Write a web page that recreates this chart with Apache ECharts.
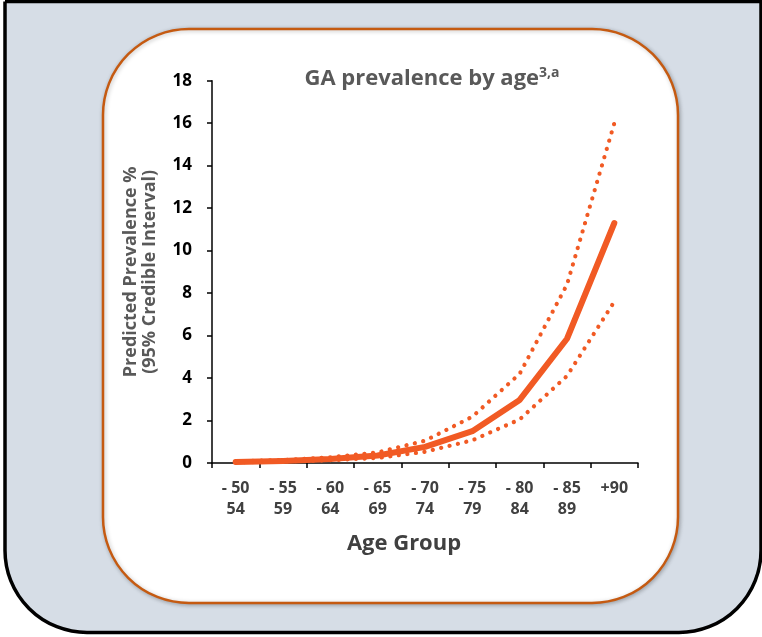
<!DOCTYPE html>
<html>
<head>
<meta charset="utf-8">
<script src="https://cdn.jsdelivr.net/npm/echarts@6/dist/echarts.min.js"></script>
<style>
html,body{margin:0;padding:0;background:#fff;}
#chart{width:762px;height:637px;}
</style>
</head>
<body>
<div id="chart"></div>
<script>
const categories = ['- 50\n54', '- 55\n59', '- 60\n64', '- 65\n69', '- 70\n74', '- 75\n79', '- 80\n84', '- 85\n89', '+90'];
const central = [0.05, 0.1, 0.19, 0.35, 0.76, 1.5, 2.97, 5.85, 11.3];
const upper = [0.07, 0.14, 0.27, 0.5, 1.05, 2.18, 4.2, 8.4, 16.0];
const lower = [0.03, 0.07, 0.13, 0.24, 0.53, 1.07, 2.05, 4.1, 7.6];
const yTicks = { min: 0, max: 18, interval: 2 };

const FONT = '"Open Sans", "Noto Sans", sans-serif';
const LINE = '#f15a24';

const chart = echarts.init(document.getElementById('chart'), null, { renderer: 'canvas' });
chart.setOption({
  animation: false,
  backgroundColor: '#ffffff',
  graphic: [
    { type: 'rect', z: -100, silent: true,
      shape: { x: 5, y: 1.5, width: 756, height: 631, r: [0, 0, 82, 82] },
      style: { fill: '#d6dde6', stroke: '#000', lineWidth: 3.5 } },
    { type: 'rect', z: -90, silent: true,
      shape: { x: 103, y: 29, width: 575, height: 574, r: 86 },
      style: { fill: '#ffffff', stroke: '#c55a11', lineWidth: 2.5,
               shadowBlur: 4, shadowColor: 'rgba(0,0,0,0.25)', shadowOffsetX: 1, shadowOffsetY: 1 } },
    { type: 'text', z: 10,
      style: {
        text: '{a|GA prevalence by age}{b|3,a}',
        x: 432, y: 79, align: 'center', verticalAlign: 'middle',
        rich: {
          a: { fontFamily: FONT, fontWeight: 'bold', fontSize: 22, fill: '#595959', color: '#595959' },
          b: { fontFamily: FONT, fontWeight: 'bold', fontSize: 14, fill: '#595959', color: '#595959', verticalAlign: 'top', padding: [0, 0, 12, 0] }
        }
      } }
  ],
  grid: { left: 212, right: 124, top: 80.7, bottom: 174, containLabel: false },
  xAxis: {
    type: 'category',
    data: categories,
    boundaryGap: true,
    name: 'Age Group',
    nameLocation: 'middle',
    nameGap: 70,
    nameTextStyle: { fontFamily: FONT, fontWeight: 'bold', fontSize: 22, color: '#404040', padding: [0, 42, 0, 0] },
    axisLine: { lineStyle: { color: '#000', width: 1.5 } },
    axisTick: { show: true, length: 5, alignWithLabel: false, lineStyle: { color: '#000', width: 1.5 } },
    axisLabel: { interval: 0, fontFamily: FONT, fontWeight: 'bold', fontSize: 16, color: '#404040', lineHeight: 21, margin: 15 }
  },
  yAxis: {
    type: 'value',
    min: yTicks.min, max: yTicks.max, interval: yTicks.interval,
    name: 'Predicted Prevalence %\n(95% Credible Interval)',
    nameLocation: 'middle',
    nameGap: 53,
    nameTextStyle: { fontFamily: FONT, fontWeight: 'bold', fontSize: 18, color: '#595959', lineHeight: 19 },
    splitLine: { show: false },
    axisLine: { show: true, lineStyle: { color: '#000', width: 1.5 } },
    axisTick: { show: true, length: 5, lineStyle: { color: '#000', width: 1.5 } },
    axisLabel: { fontFamily: FONT, fontWeight: 'bold', fontSize: 17, color: '#000', margin: 20 }
  },
  series: [
    { name: 'Upper', type: 'line', data: upper, symbol: 'none', z: 3,
      lineStyle: { color: LINE, width: 4.2, type: [0.1, 8.5], cap: 'round' } },
    { name: 'Lower', type: 'line', data: lower, symbol: 'none', z: 3,
      lineStyle: { color: LINE, width: 4.2, type: [0.1, 8.5], cap: 'round' } },
    { name: 'Predicted', type: 'line', data: central, symbol: 'none', z: 4,
      lineStyle: { color: LINE, width: 6, cap: 'round', join: 'round' } }
  ]
});
</script>
</body>
</html>
